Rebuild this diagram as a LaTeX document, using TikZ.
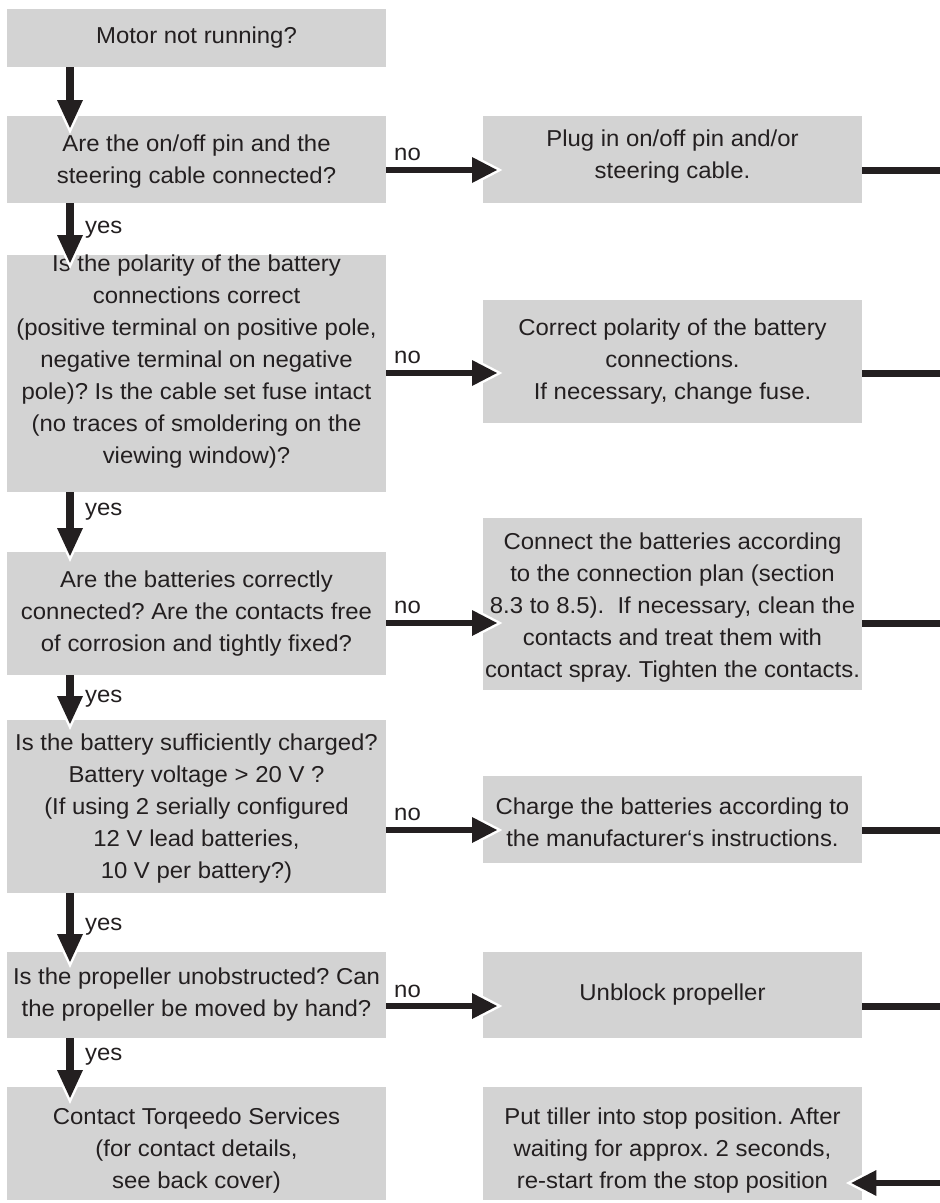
\documentclass[tikz,border=0pt]{standalone}
\usepackage{fontspec}
\setmainfont{Liberation Sans}[FakeStretch=1.04]
\usetikzlibrary{arrows.meta,calc}
\definecolor{boxgray}{RGB}{211,211,211}
\definecolor{ink}{RGB}{35,31,32}
\begin{document}
\frenchspacing
\begin{tikzpicture}[x=1pt,y=-1pt,
  box/.style={fill=boxgray, draw=none, inner sep=0pt, anchor=north west, minimum width=379pt},
  txt/.style={align=center, font=\fontsize{23}{32}\selectfont, text=ink, inner sep=0pt},
  lbl/.style={font=\fontsize{23}{32}\selectfont, text=ink, inner sep=0pt, anchor=base west},
  varrow/.style={draw=ink, line width=8.5pt, -{Triangle[length=28pt,width=26pt,line width=0pt]}},
  vhalo/.style={draw=white, line width=8.5pt, shorten >=-5.9pt, -{Triangle[length=36.4pt,width=33.8pt,line width=0pt]}},
  harrow/.style={draw=ink, line width=6pt, -{Triangle[length=25pt,width=26pt,line width=0pt]}},
  hhalo/.style={draw=white, line width=6pt, shorten >=-5.4pt, -{Triangle[length=32.9pt,width=34.2pt,line width=0pt]}},
  rline/.style={draw=ink, line width=7pt}
]
\useasboundingbox (0,0) rectangle (940,1203);

% left column boxes
\node[box, minimum height=58pt]  (A) at (7,9) {};
\node[box, minimum height=87pt]  (B) at (7,116) {};
\node[box, minimum height=237pt] (C) at (7,255) {};
\node[box, minimum height=123pt] (D) at (7,552) {};
\node[box, minimum height=173pt] (E) at (7,720) {};
\node[box, minimum height=86pt]  (F) at (7,952) {};
\node[box, minimum height=113pt] (G) at (7,1087) {};
% right column boxes
\node[box, minimum height=87pt]  (R1) at (483,116) {};
\node[box, minimum height=123pt] (R2) at (483,300) {};
\node[box, minimum height=172pt] (R3) at (483,518) {};
\node[box, minimum height=87pt]  (R4) at (483,776) {};
\node[box, minimum height=86pt]  (R5) at (483,952) {};
\node[box, minimum height=113pt] (R6) at (483,1087) {};

% texts
\node[txt] (tA) at (196.5,38) {Motor not running?};
\node[txt] (tB) at (196.5,162) {Are the on/off pin and the\\steering cable connected?};
\node[txt] (tC) at (196.5,362) {Is the polarity of the battery\\connections correct\\(positive terminal on positive pole,\\negative terminal on negative\\pole)? Is the cable set fuse intact\\(no traces of smoldering on the\\viewing window)?};
\node[txt] (tD) at (196.5,614) {Are the batteries correctly\\connected? Are the contacts free\\of corrosion and tightly fixed?};
\node[txt] (tE) at (196.5,809) {Is the battery sufficiently charged?\\Battery voltage > 20 V ?\\(If using 2 serially configured\\12 V lead batteries,\\10 V per battery?)};
\node[txt] (tF) at (196.5,995) {Is the propeller unobstructed? Can\\the propeller be moved by hand?};
\node[txt] (tG) at (196.5,1151) {Contact Torqeedo Services\\(for contact details,\\see back cover)};
\node[txt] (tR1) at (672.5,157) {Plug in on/off pin and/or\\steering cable.};
\node[txt] (tR2) at (672.5,362) {Correct polarity of the battery\\connections.\\If necessary, change fuse.};
\node[txt] (tR3) at (672.5,608) {Connect the batteries according\\to the connection plan (section\\8.3 to 8.5).~ If necessary, clean the\\contacts and treat them with\\contact spray. Tighten the contacts.};
\node[txt] (tR4) at (672.5,822) {Charge the batteries according to\\the manufacturer‘s instructions.};
\node[txt] (tR5) at (672.5,995) {Unblock propeller};
\node[txt] (tR6) at (672.5,1151) {Put tiller into stop position. After\\waiting for approx. 2 seconds,\\re-start from the stop position};

% labels
\node[lbl] (yB) at (85,233) {yes};
\node[lbl] (yC) at (85,515) {yes};
\node[lbl] (yD) at (85,702) {yes};
\node[lbl] (yE) at (85,930) {yes};
\node[lbl] (yF) at (85,1060) {yes};
\node[lbl] (nB) at (394,160) {no};
\node[lbl] (nC) at (394,363) {no};
\node[lbl] (nD) at (394,613) {no};
\node[lbl] (nE) at (394,820) {no};
\node[lbl] (nF) at (394,997) {no};

% free ends at the right margin
\coordinate (e1) at (940,170);
\coordinate (e2) at (940,373);
\coordinate (e3) at (940,623);
\coordinate (e4) at (940,830);
\coordinate (e5) at (940,1006);
\coordinate (e6) at (940,1183);

% halos
\draw[vhalo] ([xshift=63pt]A.south west) -- ([xshift=63pt,yshift=-12pt]B.north west);
\draw[vhalo] ([xshift=63pt]B.south west) -- ([xshift=63pt,yshift=-8pt]C.north west);
\draw[vhalo] ([xshift=63pt]C.south west) -- ([xshift=63pt,yshift=-4pt]D.north west);
\draw[vhalo] ([xshift=63pt]D.south west) -- ([xshift=63pt,yshift=-4pt]E.north west);
\draw[vhalo] ([xshift=63pt]E.south west) -- ([xshift=63pt,yshift=-10pt]F.north west);
\draw[vhalo] ([xshift=63pt]F.south west) -- ([xshift=63pt,yshift=-11pt]G.north west);
\draw[hhalo] ($(B.north east)+(0,54)$) -- ($(R1.north west)+(14,54)$);
\draw[hhalo] ($(C.north east)+(0,118)$) -- ($(R2.north west)+(14,73)$);
\draw[hhalo] ($(D.north east)+(0,71)$) -- ($(R3.north west)+(14,105)$);
\draw[hhalo] ($(E.north east)+(0,110)$) -- ($(R4.north west)+(14,54)$);
\draw[hhalo] ($(F.north east)+(0,54)$) -- ($(R5.north west)+(14,54)$);
\draw[hhalo] (e6) -- ($(R6.north east)+(-11,96)$);

% arrows
\draw[varrow] ([xshift=63pt]A.south west) -- ([xshift=63pt,yshift=-12pt]B.north west);
\draw[varrow] ([xshift=63pt]B.south west) -- ([xshift=63pt,yshift=-8pt]C.north west);
\draw[varrow] ([xshift=63pt]C.south west) -- ([xshift=63pt,yshift=-4pt]D.north west);
\draw[varrow] ([xshift=63pt]D.south west) -- ([xshift=63pt,yshift=-4pt]E.north west);
\draw[varrow] ([xshift=63pt]E.south west) -- ([xshift=63pt,yshift=-10pt]F.north west);
\draw[varrow] ([xshift=63pt]F.south west) -- ([xshift=63pt,yshift=-11pt]G.north west);
\draw[harrow] ($(B.north east)+(0,54)$) -- ($(R1.north west)+(14,54)$);
\draw[harrow] ($(C.north east)+(0,118)$) -- ($(R2.north west)+(14,73)$);
\draw[harrow] ($(D.north east)+(0,71)$) -- ($(R3.north west)+(14,105)$);
\draw[harrow] ($(E.north east)+(0,110)$) -- ($(R4.north west)+(14,54)$);
\draw[harrow] ($(F.north east)+(0,54)$) -- ($(R5.north west)+(14,54)$);
\draw[harrow] (e6) -- ($(R6.north east)+(-11,96)$);

% exit lines
\draw[rline] ($(R1.north east)+(0,54)$) -- (e1);
\draw[rline] ($(R2.north east)+(0,73)$) -- (e2);
\draw[rline] ($(R3.north east)+(0,105)$) -- (e3);
\draw[rline] ($(R4.north east)+(0,54)$) -- (e4);
\draw[rline] ($(R5.north east)+(0,54)$) -- (e5);
\end{tikzpicture}
\end{document}
